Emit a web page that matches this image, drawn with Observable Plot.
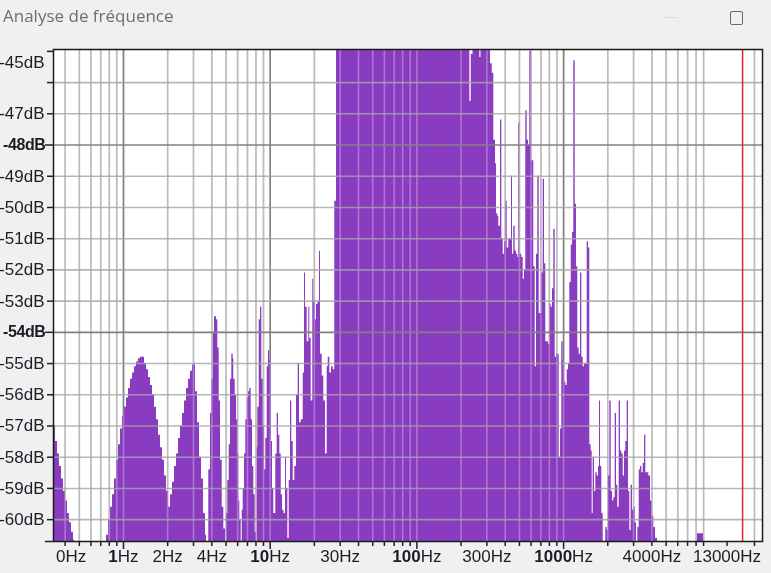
<!DOCTYPE html>
<html><head><meta charset="utf-8">
<script src="https://cdn.jsdelivr.net/npm/d3@7"></script>
<script src="https://cdn.jsdelivr.net/npm/@observablehq/plot@0.6"></script>
<style>
html,body{margin:0;padding:0;background:#f0f0f0;}
body{width:771px;height:573px;overflow:hidden;position:relative;}
#chart{position:absolute;left:0;top:0;}
#title{position:absolute;left:3px;top:4px;font:17px "Open Sans",sans-serif;color:#6e6e6e;white-space:nowrap;}
#min{position:absolute;left:664px;top:17px;width:14px;border-top:1px solid #dcdcdc;}
#max{position:absolute;left:730px;top:11px;width:11px;height:12px;border:1px solid #6a6a6a;border-radius:2px;}
</style></head><body>
<div id="chart"></div>
<div id="title">Analyse de fréquence</div>
<div id="min"></div><div id="max"></div>
<script>
// Spectrum bins (Hz) and levels (dB)
const binHz = [
0.333,0.344,0.355,0.366,0.378,0.390,0.402,0.415,0.428,0.442,0.456,0.463,
0.766,0.790,0.816,0.841,0.868,0.896,0.925,0.954,0.984,1.016,1.048,1.082,1.116,1.152,1.188,1.226,1.265,1.306,1.348,1.391,1.435,1.481,1.528,1.577,1.627,1.679,1.733,1.787,1.844,1.903,1.964,2.026,
2.091,2.158,2.227,2.298,2.371,2.446,2.524,2.605,2.688,2.774,2.862,2.953,3.048,3.096,3.195,3.297,3.402,3.510,3.622,3.679,
3.815,3.918,3.999,4.088,4.172,4.305,4.394,4.491,4.584,4.708,4.828,4.959,
5.037,5.141,5.256,5.363,5.474,5.595,5.648,5.773,5.893,6.014,6.110,6.207,6.344,
6.444,6.547,6.682,6.819,6.970,7.114,7.261,7.422,7.575,7.732,7.903,8.066,
8.155,8.233,8.416,8.589,8.766,8.961,9.146,9.334,9.541,9.738,9.938,10.16,10.37,10.58,10.92,11.16,11.39,11.63,11.89,12.14,12.39,12.72,12.92,13.19,13.48,13.75,14.03,14.35,14.71,15.12,15.52,15.84,16.27,16.79,17.13,17.40,17.87,18.33,18.62,19.03,19.51,19.82,20.26,20.68,21.24,21.68,22.02,22.61,23.19,23.82,24.46,24.85,25.49,26.17,26.88,27.56,28.31,
229.5,234.6,241.3,268.4,273.5,317.5,326.1,334.4,343.5,348.9,356.1,361.8,371.5,379.2,387.6,395.6,403.7,412.6,423.2,434.6,441.5,448.5,457.7,467.8,477.4,487.3,495.0,502.9,518.9,530.4,541.3,552.5,564.7,576.4,588.4,601.3,613.8,626.4,640.3,653.6,667.1,681.9,695.9,710.2,726.0,741.0,756.2,773.0,789.0,805.4,823.2,840.2,857.5,876.5,894.5,913.0,933.3,952.5,972.1,993.7,1014,1035,1058,1080,1102,1127,1151,1174,1200,1224,1249,1277,1304,1331,1360,1389,1417,1448,1478,1509,1542,1566,1591,1624,1658,1695,1730,1757,1785,1822,1862,1939,1982,2023,2065,2111,2155,2199,2248,2294,2341,2393,2443,2493,2549,2601,2654,2713,2769,2827,2889,2949,3010,3077,3140,3205,3276,3344,3413,3489,3561,3634,3715,3809,3912,4018,4120,4231,4366,8181,8989
];
const binDb = [
-57.0,-57.5,-57.9,-58.3,-58.7,-59.1,-59.4,-59.8,-60.1,-60.4,-60.65,-62,
-60.5,-60.0,-59.6,-59.2,-58.7,-58.1,-57.6,-57.1,-56.7,-56.4,-56.1,-55.8,-55.5,-55.3,-55.1,-54.95,-54.85,-54.8,-54.8,-55.0,-55.2,-55.45,-55.7,-56.0,-56.4,-56.8,-57.3,-57.7,-58.1,-58.6,-59.1,-59.6,
-59.2,-58.8,-58.3,-57.9,-57.4,-57.0,-56.6,-56.2,-55.8,-55.5,-55.25,-55.05,-55.0,-55.9,-56.9,-58.0,-58.7,-59.8,-60.5,-62,
-58.4,-56.6,-55.5,-54.0,-53.5,-53.6,-54.5,-56.2,-58.1,-59.6,-60.3,-62,
-59.8,-58.75,-57.6,-55.5,-54.7,-54.85,-55.5,-56.0,-56.8,-57.9,-59.4,-60.0,-62,
-59.7,-59.0,-57.9,-56.8,-56.1,-55.9,-55.8,-56.8,-58.3,-59.2,-60.4,-62,
-57.7,-56.4,-53.6,-53.2,-55.5,-57.0,-58.4,-57.4,-55.1,-54.6,-54.9,-57.5,-59.0,-59.8,-57.9,-56.6,-57.3,-57.9,-59.2,-59.7,-59.8,-58.0,-59.0,-60.6,-58.75,-56.2,-57.5,-58.75,-58.3,-56.0,-55.0,-56.9,-56.8,-55.3,-52.1,-53.2,-54.3,-53.2,-54.2,-56.2,-52.3,-53.0,-53.6,-53.1,-53.0,-51.4,-54.7,-55.4,-56.2,-57.9,-55.1,-54.8,-55.3,-55.1,-55.2,-49.8,-44,
-46.6,-45.1,-44,-45.2,-44,-45.4,-45.7,-47.85,-48.6,-50.2,-50.3,-50.6,-47.2,-51.0,-51.5,-51.1,-49.8,-51.3,-51.0,-51.0,-49.0,-51.5,-50.6,-51.4,-51.5,-51.6,-47.3,-51.5,-51.6,-52.3,-52.0,-46.9,-47.85,-48.0,-45.0,-48.5,-48.5,-51.9,-55.1,-51.5,-49.0,-53.4,-53.4,-52.1,-49.1,-51.8,-54.3,-54.3,-54.4,-53.1,-53.2,-52.6,-50.7,-54.8,-54.7,-54.7,-58.0,-57.1,-54.3,-54.9,-55.6,-55.7,-55.2,-55.0,-52.4,-51.2,-50.8,-45.3,-49.9,-51.9,-54.5,-54.7,-52.1,-54.8,-55.1,-55.0,-55.0,-51.1,-51.3,-57.6,-57.8,-59.8,-58.0,-59.1,-58.5,-58.6,-58.3,-56.2,-58.3,-59.8,-62,-60.25,-60.35,-58.6,-56.2,-59.1,-59.4,-59.3,-56.6,-58.9,-59.6,-56.2,-57.8,-57.9,-58.6,-57.8,-57.5,-56.2,-59.1,-60.35,-58.9,-59.7,-59.6,-60.1,-62,-60.25,-58.4,-58.3,-58.5,-58.2,-57.3,-58.5,-58.5,-58.6,-59.4,-59.9,-60.25,-60.6,-62,-60.45,-62
];

// Axis / grid values
const gridHzMinor = [0.4,0.5,0.6,0.7,0.8,0.9,2,3,4,5,6,7,8,9,20,30,40,50,60,70,80,90,200,300,400,500,600,700,800,900,2000,3000,4000,5000,6000,7000,8000,9000,20000];
const gridHzMajor = [1,10,100,1000];
const tickHzMinor = [0.4,0.5,0.6,0.7,0.8,0.9,2,3,4,5,6,7,8,9,20,30,40,50,60,70,80,90,200,300,400,500,600,700,800,900,2000,3000,4000,5000,6000,7000,8000,9000,13000,20000];
const labelHz = [0.44,1,2,4,10,30,100,300,1000,4000,13000];
const labelHzText = ["0Hz","1Hz","2Hz","4Hz","10Hz","30Hz","100Hz","300Hz","1000Hz","4000Hz","13000Hz"];
const gridDbMinor = [-46,-47,-49,-50,-51,-52,-53,-55,-56,-57,-58,-59,-60];
const gridDbMajor = [-48,-54];
const tickDb = [-45,-46,-47,-49,-50,-51,-52,-53,-55,-56,-57,-58,-59,-60];
const labelDb = [-47,-49,-50,-51,-52,-53,-55,-56,-57,-58,-59,-60];
const labelDbBold = [-48,-54];
const topLabelDb = [-45];
const markerHz = [16600];
const xDomain = [0.3333, 22690];
const yDomain = [-60.7, -44.94];

const bins = binHz.map((f, i) => ({f, db: binDb[i]}));
const font = "'Liberation Sans', Arial, sans-serif";

const chart = Plot.plot({
  width: 771, height: 573,
  marginTop: 49, marginLeft: 53, marginRight: 9, marginBottom: 32,
  style: {background: "transparent", fontFamily: font, fontSize: "17px", overflow: "visible"},
  x: {type: "log", domain: xDomain, label: null},
  y: {domain: yDomain, label: null},
  marks: [
    Plot.frame({fill: "white", stroke: null}),
    Plot.ruleX(gridHzMinor, {stroke: "#a0a0a0", strokeWidth: 1.6}),
    Plot.ruleX(gridHzMajor, {stroke: "#505050", strokeWidth: 1.6}),
    Plot.areaY(bins, {x: "f", y1: -62, y2: "db", curve: "step-after", fill: "#8a3cc0", clip: true}),
    Plot.ruleX(gridHzMinor.concat(gridHzMajor), {stroke: "#4a4a4a", strokeWidth: 1.6, mixBlendMode: "screen"}),
    Plot.ruleY(gridDbMinor, {stroke: "#a4a4a4", strokeWidth: 1.6, strokeOpacity: 0.8}),
    Plot.ruleY(gridDbMajor, {stroke: "#808080", strokeWidth: 1.6}),
    Plot.ruleX(markerHz, {stroke: "#e3262a", strokeWidth: 1.5}),
    Plot.frame({stroke: "#1a1a1a", strokeWidth: 1.5}),
    Plot.axisX({ticks: tickHzMinor, tickSize: 5, tickFormat: () => "", stroke: "#222", strokeWidth: 1.5, label: null}),
    Plot.axisX({ticks: gridHzMajor, tickSize: 8, tickFormat: () => "", stroke: "#222", strokeWidth: 1.5, label: null}),
    Plot.axisY({ticks: tickDb, tickSize: 6, tickFormat: () => "", stroke: "#222", strokeWidth: 1.5, label: null}),
    Plot.axisY({ticks: gridDbMajor.concat([yDomain[0]]), tickSize: 8, tickFormat: () => "", stroke: "#222", strokeWidth: 1.5, label: null}),
    Plot.text(labelHz, {x: d => d, text: (d, i) => labelHzText[i], frameAnchor: "bottom", dy: 20, fontSize: 17, fill: "#1c1c28", fontFamily: font}),
    Plot.text(labelDb, {y: d => d, text: d => `${d}dB`, frameAnchor: "left", textAnchor: "end", dx: -9, fontSize: 17, fill: "#1c1c28", fontFamily: font}),
    Plot.text(labelDbBold, {y: d => d, text: d => `${d}dB`, frameAnchor: "left", textAnchor: "end", dx: -8, fontSize: 16, fontWeight: "bold", fill: "#1c1c28", fontFamily: font}),
    Plot.text(topLabelDb, {y: d => d, text: d => `${d}dB`, frameAnchor: "left", textAnchor: "end", dx: -9, dy: 11, fontSize: 17, fill: "#1c1c28", fontFamily: font})
  ]
});

// bold number part of the decade labels; tighten the bold dB labels
chart.querySelectorAll("text").forEach(t => {
  const s = t.textContent;
  const m = s.match(/^(1|10|100|1000)Hz$/);
  if (m) {
    t.textContent = "";
    const b = document.createElementNS("http://www.w3.org/2000/svg", "tspan");
    b.setAttribute("font-weight", "bold");
    b.textContent = m[1];
    const r = document.createElementNS("http://www.w3.org/2000/svg", "tspan");
    r.textContent = "Hz";
    t.appendChild(b); t.appendChild(r);
  }
  if (s === "-48dB" || s === "-54dB") t.setAttribute("letter-spacing", "-0.4");
});
document.getElementById("chart").appendChild(chart);
</script>
</body></html>
